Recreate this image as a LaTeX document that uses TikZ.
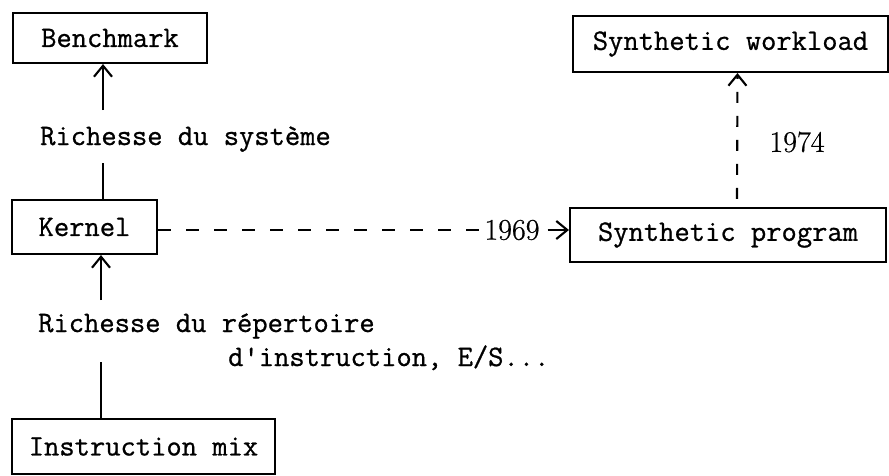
\documentclass[tikz,border=0pt]{standalone}
\usepackage{fontspec}
\newfontfamily\twfont{Latin Modern Mono}[FakeBold=0.8]
\newfontfamily\yrfont{Latin Modern Roman}[FakeBold=0.6]
\usetikzlibrary{arrows.meta,calc}
\begin{document}
\begin{tikzpicture}[x=1pt,y=-1pt,
  every node/.style={font=\twfont\fontsize{29.7pt}{34pt}\selectfont},
  boxnode/.style={draw,line width=2.1pt,inner sep=0pt},
  labnode/.style={inner sep=0pt,anchor=base west},
  yearnode/.style={inner sep=0pt,font=\yrfont\fontsize{30pt}{34pt}\selectfont},
  conn/.style={line width=2.1pt},
  tip/.style={-{Straight Barb[length=11pt,width=18pt,line width=2.1pt]}},
  dashh/.style={dash pattern=on 13pt off 15pt},
  dashv/.style={dash pattern=on 11pt off 13pt}
]
\useasboundingbox (0,0) rectangle (889,475);
% boxes
\node[boxnode,minimum width=194pt,minimum height=50pt] (bench) at (110,38) {Benchmark};
\node[boxnode,minimum width=145pt,minimum height=54pt] (kernel) at (84.5,227) {Kernel};
\node[boxnode,minimum width=263pt,minimum height=55pt] (instr) at (143.5,446.5) {Instruction mix};
\node[boxnode,minimum width=316pt,minimum height=54pt] (synprog) at (728,235) {Synthetic program};
\node[boxnode,minimum width=315pt,minimum height=56pt] (synwork) at (730.5,44) {Synthetic workload};
% labels
\node[labnode] (lab1) at (40,145) {Richesse du système};
\node[labnode] (lab2a) at (38,332) {Richesse du répertoire};
\node[labnode] (lab2b) at (228,366) {d'instruction, E/S...};
\node[yearnode] (y1969) at (512,230) {1969};
\node[yearnode] (y1974) at (797,142) {1974};
% coordinates for breaks
\coordinate (b1) at (103,110);
\coordinate (b2) at (103,163);
\coordinate (k1) at (101,300);
\coordinate (k2) at (101,362);
% connectors
\draw[conn,tip] (b1) -- (b1 |- bench.south);
\draw[conn] (b2 |- kernel.north) -- (b2);
\draw[conn,tip] (k1) -- (k1 |- kernel.south);
\draw[conn] (k2 |- instr.north) -- (k2);
\draw[conn,dashh] (kernel.east |- y1969.west) -- ([xshift=-5pt]y1969.west);
\draw[conn,tip] ([xshift=8pt]y1969.east) -- (synprog.west |- y1969.east);
\draw[conn,dashv,tip] ([xshift=9pt,yshift=8pt]synprog.north) -- ([xshift=7pt]synwork.south);
\end{tikzpicture}
\end{document}
